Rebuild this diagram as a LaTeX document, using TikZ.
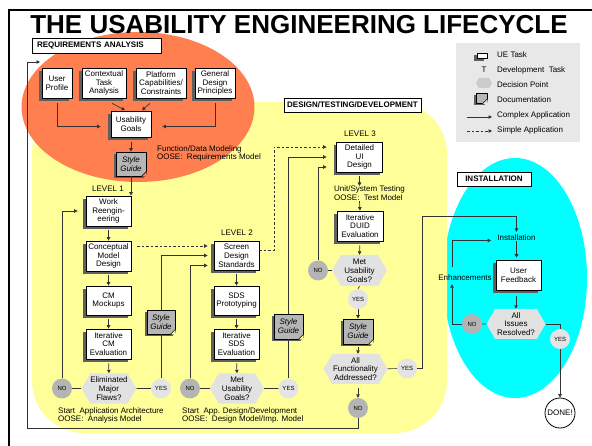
\documentclass[tikz,border=0pt]{standalone}
\usepackage{fontspec}
\setmainfont{Liberation Sans}
\usetikzlibrary{shapes.symbols,shadows,arrows.meta,calc}
\definecolor{orangeR}{RGB}{255,127,80}
\definecolor{yel}{RGB}{255,255,153}
\definecolor{cyn}{RGB}{0,255,255}
\definecolor{hexgray}{RGB}{226,226,226}
\definecolor{nogray}{RGB}{180,180,180}
\definecolor{yesgray}{RGB}{228,228,228}
\definecolor{docgray}{RGB}{182,182,182}
\definecolor{leggray}{RGB}{232,232,232}
\definecolor{shd}{RGB}{95,95,95}
\newcommand\dogear[2]{%
  \fill[#2] ([xshift=-5pt]#1.south east) -- ([xshift=0.6pt,yshift=-0.6pt]#1.south east) -- ([yshift=5pt]#1.south east) -- cycle;
  \draw[line width=0.6pt] ([xshift=-5pt]#1.south east) -- ([yshift=5pt]#1.south east);}
\begin{document}
\begin{tikzpicture}[x=1pt,y=-1pt,
  taskbox/.style={draw=black, line width=0.7pt, fill=white, general shadow={fill=shd, shadow xshift=-3pt, shadow yshift=-3pt}, align=center, inner sep=0pt, font=\fontsize{8}{8.8}\selectfont},
  docbox/.style={draw=black, line width=0.7pt, fill=docgray, general shadow={fill=shd, shadow xshift=-2pt, shadow yshift=-2pt}, align=center, inner sep=0pt, font=\itshape\fontsize{8}{8.8}\selectfont},
  decbox/.style={signal, signal to=east and west, signal pointer angle=120, fill=hexgray, inner sep=0pt, align=center, font=\fontsize{8}{8.8}\selectfont},
  nocirc/.style={circle, fill=nogray, inner sep=0pt, minimum size=20pt, font=\fontsize{6}{6}\selectfont},
  yescirc/.style={circle, fill=yesgray, inner sep=0pt, minimum size=20pt, font=\fontsize{6}{6}\selectfont},
  lbl/.style={draw=black, line width=0.8pt, fill=white, inner sep=0pt, font=\bfseries\fontsize{8}{8}\selectfont},
  txt/.style={inner sep=0pt, align=left, font=\fontsize{8}{8.8}\selectfont},
  ln/.style={draw=black!80, line width=0.7pt},
  arr/.style={ln, -{Triangle[length=3.5pt,width=3.5pt]}},
  dsh/.style={arr, dash pattern=on 2.5pt off 2pt},
]
\useasboundingbox (0,0) rectangle (592,446);
\fill[white] (0,0) rectangle (592,446);
% regions
\fill[cyn] (515,278) ellipse [x radius=72, y radius=120];
\fill[yel, rounded corners=52pt] (32,102) rectangle (447,433);
\fill[orangeR] (138,107) ellipse [x radius=116.5, y radius=75];
% frame
\draw[line width=2.2pt] (9,446) -- (9,10) -- (592,10);
% title
\node[inner sep=0pt, font=\bfseries\fontsize{26}{26}\selectfont] (title) at (299,25) {THE USABILITY ENGINEERING LIFECYCLE};
% section labels
\node[lbl, minimum width=129pt, minimum height=15pt, text width=119pt, align=left] (lra) at (96.5,45.5) {REQUIREMENTS ANALYSIS};
\node[lbl, minimum width=137pt, minimum height=14pt] (ldtd) at (352.5,105) {DESIGN/TESTING/DEVELOPMENT};
\node[lbl, minimum width=74pt, minimum height=14pt] (linst) at (494,179) {INSTALLATION};
% legend
\node[fill=leggray, minimum width=124pt, minimum height=99pt, inner sep=0pt] (leg) at (518,92.5) {};
\node[taskbox, minimum width=10pt, minimum height=5pt, general shadow={fill=shd, shadow xshift=-3pt, shadow yshift=-2pt}] (li1) at (482,55.5) {};
\node[txt, anchor=west] (lt1) at (497,55) {UE Task};
\node[txt] (li2) at (484,70) {T};
\node[txt, anchor=west] (lt2) at (497,70) {Development~~Task};
\node[decbox, fill=nogray!70, minimum width=16pt, minimum height=10pt] (li3) at (484,83) {};
\node[txt, anchor=west] (lt3) at (497,85) {Decision Point};
\node[docbox, minimum width=11pt, minimum height=10pt, general shadow={fill=shd, shadow xshift=0pt, shadow yshift=0pt}] (li4) at (481.5,98.5) {};
\dogear{li4}{leggray}
\node[txt, anchor=west] (lt4) at (497,100) {Documentation};
\coordinate (la1) at (467,117); \coordinate (la2) at (492,117);
\draw[arr] (la1) -- (la2);
\node[txt, anchor=west] (lt5) at (497,115) {Complex Application};
\coordinate (lb1) at (467,131); \coordinate (lb2) at (492,131);
\draw[dsh] (lb1) -- (lb2);
\node[txt, anchor=west] (lt6) at (497,130) {Simple Application};
% requirements analysis
\node[taskbox, minimum width=30pt, minimum height=30pt] (up) at (57,83) {User\\Profile};
\node[taskbox, minimum width=44pt, minimum height=30pt] (cta) at (104,83) {Contextual\\Task\\Analysis};
\node[taskbox, minimum width=50pt, minimum height=30pt] (pcc) at (161,83) {Platform\\Capabilities/\\Constraints};
\node[taskbox, minimum width=40pt, minimum height=30pt] (gdp) at (215,83) {General\\Design\\Principles};
\node[taskbox, minimum width=40pt, minimum height=26pt] (ug) at (131,124.5) {Usability\\Goals};
\node[docbox, minimum width=30pt, minimum height=24pt] (sg1) at (131,164) {Style\\Guide};
\dogear{sg1}{orangeR}
\node[txt, anchor=west] (fdm) at (157,153.5) {Function/Data Modeling\\OOSE:~~Requirements Model};
\draw[arr, shorten <=5pt] (up.south) |- ([xshift=-10pt,yshift=-2pt]ug.west);
\draw[arr, shorten <=5pt] (gdp.south) |- ([xshift=11pt,yshift=-2pt]ug.east);
\draw[arr] ([xshift=8pt,yshift=-5pt]cta.south) -- ([xshift=-6pt,yshift=1pt]ug.north);
\draw[arr] ([xshift=-11pt,yshift=-5pt]pcc.south) -- ([xshift=11pt,yshift=1pt]ug.north);
\draw[arr, shorten <=4pt] (ug.south) -- (sg1.north);
% level 1
\node[txt] (lv1) at (108,189) {LEVEL 1};
\node[taskbox, minimum width=45pt, minimum height=30pt] (wr) at (108.5,211) {Work\\Reengin-\\eering};
\node[taskbox, minimum width=45pt, minimum height=30pt] (cmd) at (108.5,256) {Conceptual\\Model\\Design};
\node[taskbox, minimum width=45pt, minimum height=29pt] (cmm) at (108.5,300.5) {CM\\Mockups};
\node[taskbox, minimum width=45pt, minimum height=30pt] (icm) at (108.5,344) {Iterative\\CM\\Evaluation};
\node[decbox, minimum width=54pt, minimum height=30pt] (emf) at (109,388.5) {Eliminated\\Major\\Flaws?};
\node[nocirc] (no1) at (62,388.5) {NO};
\node[yescirc] (yes1) at (161,388.5) {YES};
\node[docbox, minimum width=28pt, minimum height=24pt] (sg2) at (161,322) {Style\\Guide};
\dogear{sg2}{yel}
\node[txt, anchor=west] (t1) at (58,415.5) {Start~~Application Architecture\\OOSE:~~Analysis Model};
\draw[arr] (sg1.south) -- (sg1.south |- wr.north);
\draw[arr, shorten <=4pt] (wr.south) -- (cmd.north);
\draw[arr, shorten <=4pt] (cmd.south) -- (cmm.north);
\draw[arr, shorten <=4pt] (cmm.south) -- (icm.north);
\draw[arr, shorten <=4pt] (icm.south) -- (emf.north);
\draw[ln] (no1) -- (no1 -| emf.west);
\draw[ln] (emf) -- (yes1);
\draw[arr, shorten >=8pt] (no1.north) |- (wr.west);
\draw[ln] (yes1.north) -- (sg2.south);
% level 2
\node[txt] (lv2) at (237,233) {LEVEL 2};
\node[taskbox, minimum width=45pt, minimum height=29pt] (sd) at (236.5,255.5) {Screen\\Design\\Standards};
\node[taskbox, minimum width=45pt, minimum height=29pt] (sdp) at (236.5,300.5) {SDS\\Prototyping};
\node[taskbox, minimum width=45pt, minimum height=30pt] (isds) at (236.5,344) {Iterative\\SDS\\Evaluation};
\node[decbox, minimum width=54pt, minimum height=30pt] (mug2) at (237,388.5) {Met\\Usability\\Goals?};
\node[nocirc] (no2) at (190,388.5) {NO};
\node[yescirc] (yes2) at (288.5,388.5) {YES};
\node[docbox, minimum width=29pt, minimum height=25pt] (sg3) at (288.5,326.5) {Style\\Guide};
\dogear{sg3}{yel}
\node[txt, anchor=west] (t2) at (182,415.5) {Start~~App. Design/Development\\OOSE:~~Design Model/Imp. Model};
\coordinate (d1s) at ($(cmd.east)+(6,-10)$);
\coordinate (d1e) at ($(sd.west |- d1s)+(-6,0)$);
\draw[dsh] (d1s) -- (d1e);
\draw[arr, shorten >=6pt] (sg2.north) |- (sd.west);
\draw[arr, shorten >=6pt] (no2.north) |- ([yshift=-10pt]sd.west);
\draw[arr, shorten <=4pt] (sd.south) -- (sdp.north);
\draw[arr, shorten <=4pt] (sdp.south) -- (isds.north);
\draw[arr, shorten <=4pt] (isds.south) -- (mug2.north);
\draw[ln] (no2) -- (no2 -| mug2.west);
\draw[ln] (mug2) -- (yes2);
\draw[ln] (yes2.north) -- (sg3.south);
% level 3
\node[txt] (lv3) at (360,134) {LEVEL 3};
\node[taskbox, minimum width=46pt, minimum height=30pt] (dui) at (359.5,157) {Detailed\\UI\\Design};
\node[txt, anchor=west] (ut) at (334,193.5) {Unit/System Testing\\OOSE:~~Test Model};
\node[taskbox, minimum width=46pt, minimum height=30pt] (iduid) at (360,226) {Iterative\\DUID\\Evaluation};
\node[decbox, minimum width=55pt, minimum height=31pt] (mug3) at (359.5,270.5) {Met\\Usability\\Goals?};
\node[nocirc] (no3) at (318,270.5) {NO};
\node[yescirc] (yes3) at (358,299) {YES};
\node[docbox, minimum width=30pt, minimum height=25pt] (sg4) at (358,331.5) {Style\\Guide};
\dogear{sg4}{yel}
\node[decbox, minimum width=64pt, minimum height=30pt] (afa) at (355.5,369) {All\\Functionality\\Addressed?};
\node[yescirc] (yes4) at (407,368.5) {YES};
\node[nocirc] (no4) at (358,408) {NO};
\coordinate (d2a) at ($(sd.east)+(15,-5)$);
\coordinate (d2b) at ($(dui.west)+(-9.5,-10)$);
\draw[dsh] ([yshift=5pt]sd.east) -- (d2a) |- (d2b);
\draw[arr, shorten >=9.5pt] (sg3.north) |- (dui.west);
\draw[arr, shorten >=9.5pt] (no3.north) |- ([yshift=-10pt]dui.west);
\draw[arr, shorten <=4pt] (dui.south) -- (dui.south |- ut.north);
\draw[arr] (dui.south |- ut.south) -- (iduid.north);
\draw[arr, shorten <=4pt] (iduid.south) -- (mug3.north);
\draw[ln] (no3) -- (no3 -| mug3.west);
\draw[ln] (mug3.south) -- (yes3.north);
\draw[arr] (yes3.south) -- (sg4.north);
\draw[arr, shorten <=3pt] (sg4.south) -- (sg4.south |- afa.north);
\draw[ln] (afa) -- (yes4);
\draw[arr, shorten <=4pt] (no4 |- afa.south) -- (no4.north);
\coordinate (lb) at (27,428);
\coordinate (lt) at (27,62);
\coordinate (le) at (40,62);
\draw[arr] (no4.south) |- (lb) -- (lt) -- (le);
% installation
\node[txt] (inst) at (516.5,238) {Installation};
\node[txt] (enh) at (465,278) {Enhancements};
\node[taskbox, minimum width=45pt, minimum height=30pt] (uf) at (518.5,275) {User\\Feedback};
\node[decbox, minimum width=59pt, minimum height=30pt] (air) at (516,324) {All\\Issues\\Resolved?};
\node[nocirc] (no5) at (472,324) {NO};
\node[yescirc] (yes5) at (560,339) {YES};
\node[circle, draw=black, line width=0.8pt, fill=white, minimum size=30pt, inner sep=0pt, font=\fontsize{8}{8}\selectfont] (done) at (560,413) {DONE!};
\coordinate (c1) at ($(yes4.east)+(5,-152)$);
\draw[arr, shorten >=3pt] (yes4.east) -| (c1) -| (inst.north);
\draw[arr, shorten >=2pt] (inst.south) -- (inst.south |- uf.north);
\draw[arr, shorten <=6pt] (air.north |- uf.south) -- (air.north);
\draw[ln] (no5) -- (air);
\coordinate (e1) at ([xshift=-13pt]enh.south);
\coordinate (e2) at ([xshift=-13pt]enh.north);
\draw[arr, shorten >=3pt] (no5.west) -| (e1);
\draw[arr, shorten <=8pt, shorten >=6pt] (e2) |- ([yshift=-2.5pt]inst.west);
\draw[ln] (air.east) -| (yes5.north);
\draw[arr] (yes5.south) -- (done.north);
\end{tikzpicture}
\end{document}
